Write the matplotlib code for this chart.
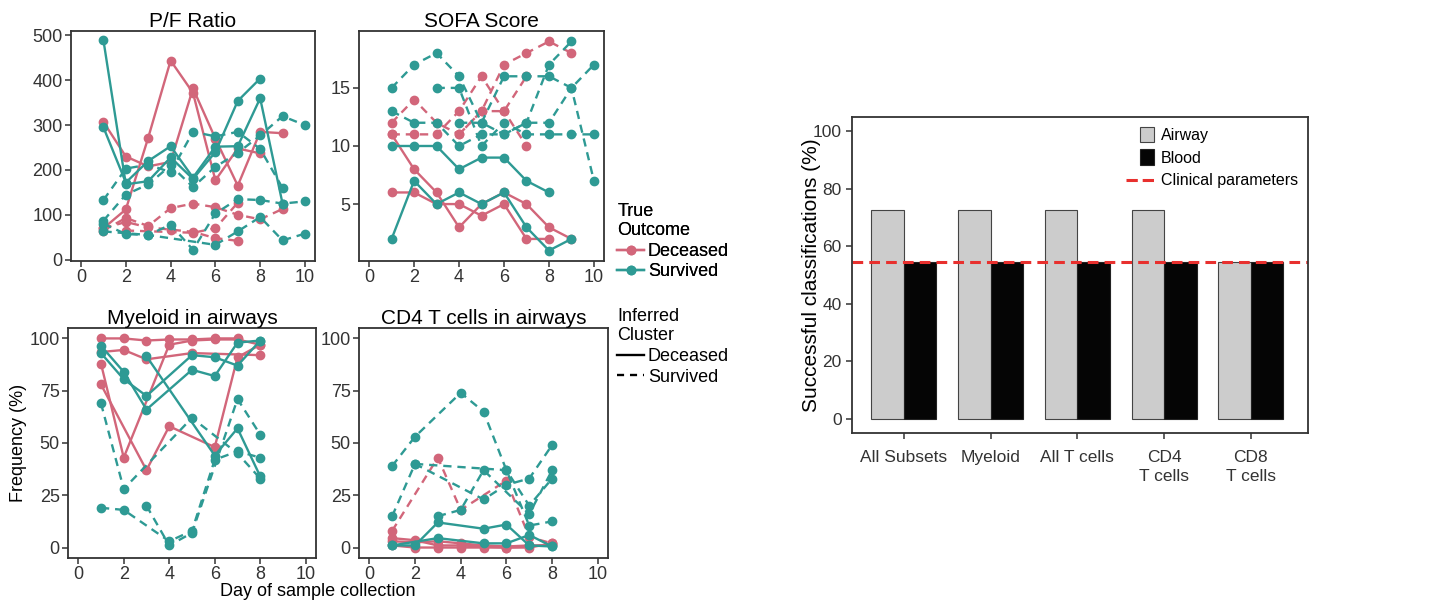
import numpy as np
import matplotlib.pyplot as plt
from matplotlib.lines import Line2D
from matplotlib.patches import Patch
from matplotlib.legend_handler import HandlerBase

plt.rcParams['font.family'] = ['Liberation Sans', 'DejaVu Sans']

PINK = '#D2667A'
TEAL = '#2E9A94'

# (true outcome, inferred cluster, days, values)
pf_series = [
    ("Deceased", "Deceased", [1, 2, 3, 4, 5, 6, 7, 8, 9], [307, 230, 208, 218, 382, 270, 165, 285, 282]),
    ("Deceased", "Deceased", [1, 2, 3, 4, 5, 6, 7, 8], [70, 112, 272, 444, 372, 177, 248, 237]),
    ("Deceased", "Survived", [1, 2, 3, 4, 5, 6, 7, 8, 9], [65, 93, 75, 115, 125, 117, 100, 90, 113]),
    ("Deceased", "Survived", [1, 2, 3, 4, 5, 6, 7], [70, 84, 72, 67, 62, 48, 42]),
    ("Deceased", "Survived", [2, 5, 6, 7], [65, 60, 70, 127]),
    ("Survived", "Deceased", [1, 2, 3, 4, 5, 6, 7, 8], [489, 168, 175, 228, 180, 240, 354, 404]),
    ("Survived", "Deceased", [1, 2, 3, 4, 5, 6, 7, 8, 9], [295, 172, 220, 253, 183, 252, 253, 360, 125]),
    ("Survived", "Survived", [1, 2, 3, 4, 5, 6, 7, 8, 9], [133, 203, 212, 195, 285, 275, 285, 247, 160]),
    ("Survived", "Survived", [1, 2, 3, 4, 5, 6, 7, 8, 9, 10], [87, 145, 168, 210, 162, 207, 238, 277, 320, 300]),
    ("Survived", "Survived", [1, 2, 3, 4, 5, 6, 7, 8, 9, 10], [80, 57, 55, 78, 22, 103, 135, 133, 125, 130]),
    ("Survived", "Survived", [1, 3, 6, 7, 8, 9, 10], [63, 55, 33, 63, 95, 43, 58]),
]

sofa_series = [
    ("Deceased", "Deceased", [1, 2, 3, 4, 5, 6, 7, 8, 9], [11, 8, 6, 3, 5, 6, 5, 3, 2]),
    ("Deceased", "Deceased", [1, 2, 3, 4, 5, 6, 7, 8], [6, 6, 5, 5, 4, 5, 2, 2]),
    ("Deceased", "Survived", [1, 2, 3, 4, 5, 6, 7, 8, 9], [12, 14, 12, 11, 13, 17, 18, 19, 18]),
    ("Deceased", "Survived", [1, 2, 3, 4, 5, 6, 7], [11, 11, 11, 13, 16, 13, 10]),
    ("Deceased", "Survived", [4, 5, 6, 7], [11, 13, 13, 16]),
    ("Survived", "Deceased", [1, 2, 3, 4, 5, 6, 7, 8], [10, 10, 10, 8, 9, 9, 7, 6]),
    ("Survived", "Deceased", [1, 2, 3, 4, 5, 6, 7, 8, 9], [2, 7, 5, 6, 5, 6, 3, 1, 2]),
    ("Survived", "Survived", [1, 2, 3, 4, 5, 6, 7, 8, 9, 10], [15, 17, 18, 16, 12, 16, 16, 16, 15, 17]),
    ("Survived", "Survived", [1, 2, 3, 4, 5, 6, 7, 8, 9, 10], [13, 12, 12, 10, 11, 11, 12, 12, 15, 7]),
    ("Survived", "Survived", [3, 4, 5, 6, 7, 8, 9, 10], [15, 15, 10, 12, 11, 11, 11, 11]),
    ("Survived", "Survived", [4, 5, 6, 7, 8, 9], [12, 12, 11, 12, 17, 19]),
]

myeloid_series = [
    ("Deceased", "Deceased", [1, 2, 3, 4, 5, 6, 7], [100, 100, 99, 99.5, 99.5, 100, 100]),
    ("Deceased", "Deceased", [1, 2, 3, 5, 8], [93.5, 94.5, 90, 93, 92]),
    ("Deceased", "Deceased", [1, 2, 4, 5, 6, 7, 8], [88, 43, 97, 99, 99.5, 99.5, 97]),
    ("Deceased", "Deceased", [1, 3, 4, 6, 7, 8], [78, 37, 58, 48, 91, 97]),
    ("Survived", "Deceased", [1, 2, 3, 5, 6, 7, 8], [96.5, 84, 66, 85, 82, 98, 99]),
    ("Survived", "Deceased", [1, 2, 3, 5, 6, 7, 8], [93, 80.5, 72.5, 92, 91, 87, 99]),
    ("Survived", "Deceased", [3, 6, 7, 8], [91.5, 44, 57, 34]),
    ("Survived", "Survived", [1, 2, 5, 7, 8], [69, 28, 62, 45, 33]),
    ("Survived", "Survived", [1, 2, 4, 5, 6, 7, 8], [19, 18, 3, 8, 42, 46, 43]),
    ("Survived", "Survived", [3, 4, 5, 7, 8], [20, 1, 7, 71, 54]),
]

cd4_series = [
    ("Deceased", "Deceased", [1, 2, 3, 4, 5, 6, 7, 8], [4.5, 3.5, 1, 1, 0.5, 0, 0.5, 1.5]),
    ("Deceased", "Deceased", [1, 2, 3, 4, 5, 6, 7, 8], [1, 0, 0, 0, 0, 0, 0, 2]),
    ("Deceased", "Deceased", [1, 2, 3, 4, 5, 6, 7, 8], [3, 2.5, 3, 2, 1, 0.5, 1, 1]),
    ("Deceased", "Survived", [1, 3, 4, 6, 7, 8], [8, 43, 18, 32, 5, 2]),
    ("Survived", "Deceased", [1, 2, 3, 5, 6, 7, 8], [1, 1, 12, 9, 11, 1, 0.5]),
    ("Survived", "Deceased", [1, 3, 5, 6, 7, 8], [1, 4.5, 2, 2, 6, 0.5]),
    ("Survived", "Survived", [1, 2, 4, 5, 6, 7, 8], [39, 53, 74, 65, 37, 10.5, 12.5]),
    ("Survived", "Survived", [1, 2, 5, 6, 7, 8], [15, 40, 23, 30, 33, 49]),
    ("Survived", "Survived", [3, 4, 5, 7, 8], [15, 18, 37, 16, 37]),
    ("Survived", "Survived", [2, 6, 7, 8], [40, 37, 20, 33]),
]

subsets = ["All Subsets", "Myeloid", "All T cells", "CD4\nT cells", "CD8\nT cells"]
airway = [72.7, 72.7, 72.7, 72.7, 54.5]
blood = [54.5, 54.5, 54.5, 54.5, 54.5]
clinical = 54.5

fig = plt.figure(figsize=(14.43, 6.05), dpi=100)

colors = {"Deceased": PINK, "Survived": TEAL}
styles = {"Deceased": "-", "Survived": (0, (3.5, 2.5))}


def small_panel(rect, series, title, ylim, yticks):
    ax = fig.add_axes(rect)
    for outcome, cluster, days, vals in series:
        ax.plot(days, vals, color=colors[outcome], linestyle=styles[cluster],
                lw=1.7, marker='o', ms=6, mec=colors[outcome])
    ax.set_xlim(-0.45, 10.45)
    ax.set_ylim(*ylim)
    ax.set_xticks([0, 2, 4, 6, 8, 10])
    ax.set_yticks(yticks)
    ax.set_title(title, fontsize=15, pad=3)
    for s in ax.spines.values():
        s.set_color('#333333')
        s.set_linewidth(1.3)
    ax.tick_params(labelsize=13, colors='#333333', length=4, width=1.1, pad=2)
    return ax


small_panel([0.0492, 0.5686, 0.1691, 0.3802], pf_series, "P/F Ratio", (-3, 510), [0, 100, 200, 300, 400, 500])
small_panel([0.2488, 0.5686, 0.1698, 0.3802], sofa_series, "SOFA Score", (0.1, 19.9), [5, 10, 15])
small_panel([0.0471, 0.0777, 0.1719, 0.3802], myeloid_series, "Myeloid in airways", (-5, 105), [0, 25, 50, 75, 100])
small_panel([0.2488, 0.0777, 0.1726, 0.3802], cd4_series, "CD4 T cells in airways", (-5, 105), [0, 25, 50, 75, 100])

fig.text(0.0125, 0.268, "Frequency (%)", rotation=90, ha='center', va='center', fontsize=13)
fig.text(0.2204, 0.023, "Day of sample collection", ha='center', va='center', fontsize=13)

# legends between the panels and the bar chart
outcome_handles = [Line2D([], [], color=PINK, marker='o', ms=6, lw=1.7),
                   Line2D([], [], color=TEAL, marker='o', ms=6, lw=1.7)]
cluster_handles = [Line2D([], [], color='black', lw=1.7, linestyle='-'),
                   Line2D([], [], color='black', lw=1.7, linestyle=(0, (3, 2.5)))]
leg_kw = dict(loc='upper left', frameon=False, fontsize=13, title_fontsize=13, alignment='left',
              handlelength=1.5, handletextpad=0.2, labelspacing=0.2, borderpad=0)
leg1 = fig.legend(outcome_handles, ["Deceased", "Survived"], title="True\nOutcome",
                  bbox_to_anchor=(0.4215, 0.680), **leg_kw)
fig.add_artist(leg1)
fig.legend(cluster_handles, ["Deceased", "Survived"], title="Inferred\nCluster",
           bbox_to_anchor=(0.4215, 0.506), **leg_kw)


class WideLineHandler(HandlerBase):
    # dashed key drawn wider than the square patch keys, extending to the left
    def create_artists(self, legend, orig, xdescent, ydescent, width, height, fontsize, trans):
        y = height / 2 - ydescent
        line = Line2D([-xdescent - width * 1.1, -xdescent + width], [y, y],
                      color=orig.get_color(), lw=orig.get_linewidth(), linestyle=orig.get_linestyle())
        line.set_transform(trans)
        return [line]


# bar chart
axb = fig.add_axes([0.5904, 0.2843, 0.316, 0.5223])
x = np.arange(len(subsets))
w = 0.375
axb.bar(x - w / 2, airway, width=w, color='#CCCCCC', edgecolor='#444444', lw=0.8)
axb.bar(x + w / 2, blood, width=w, color='#050505', edgecolor='#222222', lw=0.8)
axb.axhline(clinical, color='#E8302E', lw=2.2, linestyle=(0, (3.5, 2)))
axb.set_xlim(-0.6, 4.66)
axb.set_ylim(-5, 105)
axb.set_xticks(x)
axb.set_xticklabels(subsets, fontsize=12.5, color='black', linespacing=1.35)
axb.set_yticks([0, 20, 40, 60, 80, 100])
axb.set_yticklabels([0, 20, 40, 60, 80, 100], fontsize=12.5, color='#333333')
axb.set_ylabel("Successful classifications (%)", fontsize=15, labelpad=-6)
for s in axb.spines.values():
    s.set_color('#333333')
    s.set_linewidth(1.3)
axb.tick_params(colors='#333333', length=4, width=1.1)
axb.tick_params(axis='x', pad=8)

bar_handles = [Patch(facecolor='#CCCCCC', edgecolor='#444444', lw=0.8),
               Patch(facecolor='#050505', edgecolor='#222222', lw=0.8),
               Line2D([], [], color='#E8302E', lw=2.2, linestyle=(0, (3.5, 2)))]
axb.legend(bar_handles, ["Airway", "Blood", "Clinical parameters"],
           handler_map={Line2D: WideLineHandler()},
           loc='upper right', bbox_to_anchor=(1.0, 1.0), frameon=False, fontsize=11.5,
           handlelength=0.85, handleheight=1.15, labelspacing=0.4, handletextpad=0.45, borderpad=0.1)

fig.savefig("out.png", dpi=100)
